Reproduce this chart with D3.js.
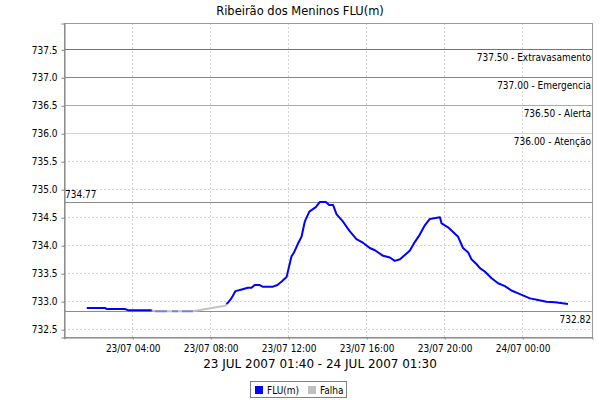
<!DOCTYPE html>
<html><head><meta charset="utf-8">
<script src="https://cdn.jsdelivr.net/npm/d3@7"></script>
<style>body{margin:0;background:#fff}svg{display:block}text{font-family:"DejaVu Sans",sans-serif;fill:#000}
.sm{font-family:"DejaVu Sans Condensed","DejaVu Sans",sans-serif;font-stretch:condensed;font-size:10px}</style>
</head><body>
<script>
const title = "Ribeirão dos Meninos FLU(m)";
const xAxisLabel = "23 JUL 2007 01:40 - 24 JUL 2007 01:30";
const xDomain = ["2007-07-23T00:30", "2007-07-24T03:35"];
const yDomain = [732.36, 737.97];
const yTicks = [732.5, 733.0, 733.5, 734.0, 734.5, 735.0, 735.5, 736.0, 736.5, 737.0, 737.5];
const thresholdValues = [737.5, 737.0, 736.5, 736.0];
const thresholdNames = ["Extravasamento", "Emergencia", "Alerta", "Atenção"];
const thresholdColors = ["#e8403a", "#dc48e0", "#f09a48", "#f8dc44"];
const maxValue = 734.77, minValue = 732.82;
const legendNames = ["FLU(m)", "Falha"];
const seriesColors = ["#0000ff", "#c0c0c0"];

// FLU(m) series, first part (before failure)
const flu1Times = ["2007-07-23T01:40","2007-07-23T02:36","2007-07-23T02:42","2007-07-23T03:37","2007-07-23T03:47","2007-07-23T05:00"];
const flu1Values = [732.88,732.88,732.86,732.86,732.84,732.84];
// Falha series
const falhaTimes = ["2007-07-23T05:00","2007-07-23T05:10","2007-07-23T07:07","2007-07-23T08:47","2007-07-23T08:50"];
const falhaValues = [732.84,732.82,732.82,732.92,732.95];
// FLU(m) series, second part (after failure)
const flu2Times = ["2007-07-23T08:50","2007-07-23T08:54","2007-07-23T09:04","2007-07-23T09:18","2007-07-23T09:37","2007-07-23T09:56","2007-07-23T10:07","2007-07-23T10:17","2007-07-23T10:31","2007-07-23T10:41","2007-07-23T11:13","2007-07-23T11:27","2007-07-23T11:40","2007-07-23T11:55","2007-07-23T12:10","2007-07-23T12:17","2007-07-23T12:31","2007-07-23T12:41","2007-07-23T12:51","2007-07-23T13:05","2007-07-23T13:25","2007-07-23T13:37","2007-07-23T13:56","2007-07-23T14:06","2007-07-23T14:18","2007-07-23T14:29","2007-07-23T14:49","2007-07-23T15:08","2007-07-23T15:30","2007-07-23T15:51","2007-07-23T16:11","2007-07-23T16:27","2007-07-23T16:52","2007-07-23T17:13","2007-07-23T17:28","2007-07-23T17:44","2007-07-23T18:14","2007-07-23T18:30","2007-07-23T18:45","2007-07-23T19:01","2007-07-23T19:16","2007-07-23T19:47","2007-07-23T19:52","2007-07-23T20:12","2007-07-23T20:43","2007-07-23T20:58","2007-07-23T21:14","2007-07-23T21:24","2007-07-23T21:40","2007-07-23T21:50","2007-07-23T22:05","2007-07-23T22:26","2007-07-23T22:46","2007-07-23T23:07","2007-07-23T23:27","2007-07-23T23:48","2007-07-24T00:24","2007-07-24T00:49","2007-07-24T01:15","2007-07-24T01:41","2007-07-24T02:21"];
const flu2Values = [732.95,732.97,733.04,733.18,733.21,733.24,733.24,733.29,733.29,733.26,733.26,733.29,733.35,733.43,733.80,733.86,734.04,734.15,734.42,734.60,734.68,734.77,734.77,734.72,734.72,734.55,734.42,734.26,734.11,734.04,733.95,733.91,733.81,733.78,733.72,733.75,733.90,734.06,734.19,734.36,734.47,734.50,734.39,734.32,734.15,733.95,733.87,733.75,733.66,733.59,733.53,733.41,733.32,733.27,733.19,733.14,733.05,733.02,732.99,732.98,732.95];

const W = 600, H = 400;
const pL = 64, pR = 592, pT = 23, pB = 337;
const parse = d3.timeParse("%Y-%m-%dT%H:%M");
const crisp = v => Math.floor(v) + 0.5;

const svg = d3.select("body").append("svg").attr("width", W).attr("height", H);
const x = d3.scaleTime().domain(xDomain.map(parse)).range([pL, pR]);
const y = d3.scaleLinear().domain(yDomain).range([pB, pT]);

svg.append("text").attr("x", 300).attr("y", 15).attr("text-anchor", "middle")
  .style("font-size", "11.5px").text(title);

// grid
const xTicks = x.ticks(d3.timeHour.every(4));
svg.append("g").selectAll("line").data(xTicks).join("line")
  .attr("x1", d => crisp(x(d))).attr("x2", d => crisp(x(d))).attr("y1", pT).attr("y2", pB)
  .attr("stroke", "#d4d4d4").attr("stroke-dasharray", "2,2");
svg.append("g").selectAll("line").data(yTicks).join("line")
  .attr("x1", pL).attr("x2", pR).attr("y1", d => crisp(y(d))).attr("y2", d => crisp(y(d)))
  .attr("stroke", "#d4d4d4").attr("stroke-dasharray", "2,2");

// thresholds
thresholdValues.forEach((v, i) => {
  svg.append("line").attr("x1", pL).attr("x2", pR).attr("y1", crisp(y(v))).attr("y2", crisp(y(v)))
    .attr("stroke", thresholdColors[i]).attr("stroke-width", 1);
  svg.append("text").attr("class", "sm").attr("x", pR - 1).attr("y", y(v) + 12).attr("text-anchor", "end")
    .text(v.toFixed(2) + " - " + thresholdNames[i]);
});
// max/min markers
svg.append("line").attr("x1", pL).attr("x2", pR).attr("y1", crisp(y(maxValue))).attr("y2", crisp(y(maxValue))).attr("stroke", "#8c8c8c");
svg.append("text").attr("class", "sm").attr("x", pL + 1).attr("y", y(maxValue) - 4).text(maxValue.toFixed(2));
svg.append("line").attr("x1", pL).attr("x2", pR).attr("y1", crisp(y(minValue))).attr("y2", crisp(y(minValue))).attr("stroke", "#8c8c8c");
svg.append("text").attr("class", "sm").attr("x", pR - 1).attr("y", y(minValue) + 12).attr("text-anchor", "end").text(minValue.toFixed(2));

// series
const line = d3.line().x(d => x(d[0])).y(d => y(d[1]));
const zip = (t, v) => t.map((s, i) => [parse(s), v[i]]);
const falha = zip(falhaTimes, falhaValues);
svg.append("path").datum(falha).attr("d", line).attr("fill", "none")
  .attr("stroke", seriesColors[1]).attr("stroke-width", 2);
svg.append("path").datum(falha.slice(1, 3)).attr("d", line).attr("fill", "none")
  .attr("stroke", seriesColors[0]).attr("stroke-opacity", 0.35).attr("stroke-width", 2)
  .attr("stroke-dasharray", "12,5,6,4,12,40");
[zip(flu1Times, flu1Values), zip(flu2Times, flu2Values)].forEach(d => {
  svg.append("path").datum(d).attr("d", line).attr("fill", "none")
    .attr("stroke", seriesColors[0]).attr("stroke-width", 2).attr("stroke-linejoin", "round");
});

// outline
svg.append("rect").attr("x", pL + 0.5).attr("y", pT + 0.5).attr("width", pR - pL).attr("height", pB - pT)
  .attr("fill", "none").attr("stroke", "#9a9a9a");

// axes
const gx = svg.append("g").attr("transform", `translate(0.5,${pB + 0.5})`)
  .call(d3.axisBottom(x).tickValues(xTicks).tickFormat(d3.timeFormat("%d/%m %H:%M")).tickSizeOuter(0).tickSize(2).tickPadding(5));
gx.select(".domain").attr("stroke", "#808080");
gx.selectAll(".tick line").attr("stroke", "#808080");
gx.selectAll("text").attr("class", "sm").style("font-family", null).style("font-size", null);
gx.attr("font-family", null).attr("font-size", null);
const gy = svg.append("g").attr("transform", `translate(${pL + 0.5},0.5)`)
  .call(d3.axisLeft(y).tickValues(yTicks).tickFormat(d3.format(".1f")).tickSizeOuter(0).tickSize(3).tickPadding(4));
gy.select(".domain").attr("stroke", "#808080");
gy.selectAll(".tick line").attr("stroke", "#808080");
gy.selectAll("text").attr("class", "sm");
gy.attr("font-family", null).attr("font-size", null);

svg.append("text").attr("x", 320).attr("y", 368).attr("text-anchor", "middle")
  .style("font-size", "12px").text(xAxisLabel);

// legend
const lg = svg.append("g");
lg.append("rect").attr("x", 250.5).attr("y", 381.5).attr("width", 96).attr("height", 16)
  .attr("fill", "#fff").attr("stroke", "#808080");
const legX = [255, 308];
legendNames.forEach((n, i) => {
  lg.append("rect").attr("x", legX[i]).attr("y", 386).attr("width", 8).attr("height", 8).attr("fill", seriesColors[i]);
  lg.append("text").attr("class", "sm").attr("x", legX[i] + 12).attr("y", 393.5).text(n);
});
</script>
</body></html>
